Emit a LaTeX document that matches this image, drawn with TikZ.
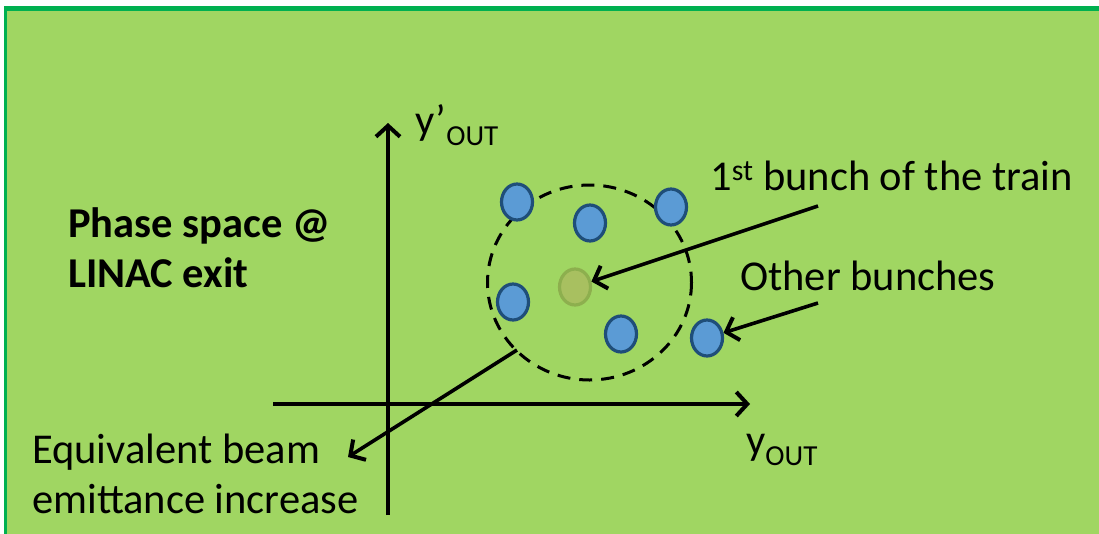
\documentclass[tikz,border=0pt]{standalone}
\usepackage{fontspec}
\setmainfont{Carlito}
\usetikzlibrary{arrows.meta,shapes.geometric}
\definecolor{panelfill}{HTML}{A0D662}
\definecolor{panelrim}{HTML}{00B050}
\definecolor{bunchfill}{HTML}{5B9BD5}
\definecolor{bunchrim}{HTML}{1F4E79}
\definecolor{firstfill}{HTML}{A8C060}
\definecolor{firstrim}{HTML}{8DAF4E}
\tikzset{
  barb/.tip={Straight Barb[length=11pt,width=24pt,line width=4pt]},
  axisline/.style={line width=3.6pt,-barb},
  pointer/.style={line width=3.6pt,-barb},
  bunch/.style={ellipse,draw=bunchrim,fill=bunchfill,line width=3.2pt,
    minimum width=31pt,minimum height=36pt,inner sep=0pt},
  firstbunch/.style={bunch,draw=firstrim,fill=firstfill},
  label40/.style={inner sep=0pt,font=\fontsize{42.5}{50}\selectfont},
  boldlabel/.style={inner sep=0pt,align=left,font=\fontsize{42.5}{50}\selectfont\bfseries},
}
\newcommand{\subout}{\raisebox{-11pt}{\fontsize{29}{30}\selectfont OUT}}
\begin{document}
\begin{tikzpicture}[x=1pt,y=-1pt]
\useasboundingbox (0,0) rectangle (1099,533);
% panel background and its green rim (top and left edges)
\fill[panelfill] (4,6) rectangle (1115,545);
\draw[panelrim,line width=5pt] (4,8.5) -- (1115,8.5);
\draw[panelrim,line width=3pt] (5.5,6) -- (5.5,545);

% phase-space axes
\coordinate (vbot) at (388,515);
\coordinate (vtop) at (388,123);
\coordinate (hleft) at (273,404);
\coordinate (hright) at (750,404);
\draw[axisline] (vbot) -- (vtop);
\draw[axisline] (hleft) -- (hright);
\node[label40,anchor=base west] (ylab2) at (415,134) {y’\subout};
\node[label40,anchor=base west] (ylab1) at (746,454) {y\subout};

% equivalent emittance envelope
\draw[line width=3pt,dash pattern=on 13pt off 9pt] (589.5,282.5) ellipse [x radius=102,y radius=97.5];

% bunches of the train
\node[bunch] (b1) at (517,202) {};
\node[bunch] (b2) at (590,223) {};
\node[bunch] (b3) at (671,207) {};
\node[bunch] (b4) at (513,302) {};
\node[bunch] (b5) at (621,334) {};
\node[bunch] (b6) at (707,338) {};
\node[firstbunch] (g) at (575,287) {};

% labels (base anchor sits on the last line)
\node[boldlabel,anchor=base west] (title) at (68,287) {Phase space @\\LINAC exit};
\node[label40,anchor=base west] (first) at (710,190) {1\textsuperscript{st} bunch of the train};
\node[label40,anchor=base west] (other) at (740,290) {Other bunches};
\node[label40,anchor=base west,align=left] (emit) at (32,513) {Equivalent beam\\emittance increase};

% pointers
\coordinate (pfirst) at (818,206);
\coordinate (pother) at (818,303);
\coordinate (penv) at (517,350);
\coordinate (pemit) at (348,457);
\draw[pointer] (pfirst) -- (g);
\draw[pointer] (pother) -- (b6);
\draw[pointer] (penv) -- (pemit);
\end{tikzpicture}
\end{document}
